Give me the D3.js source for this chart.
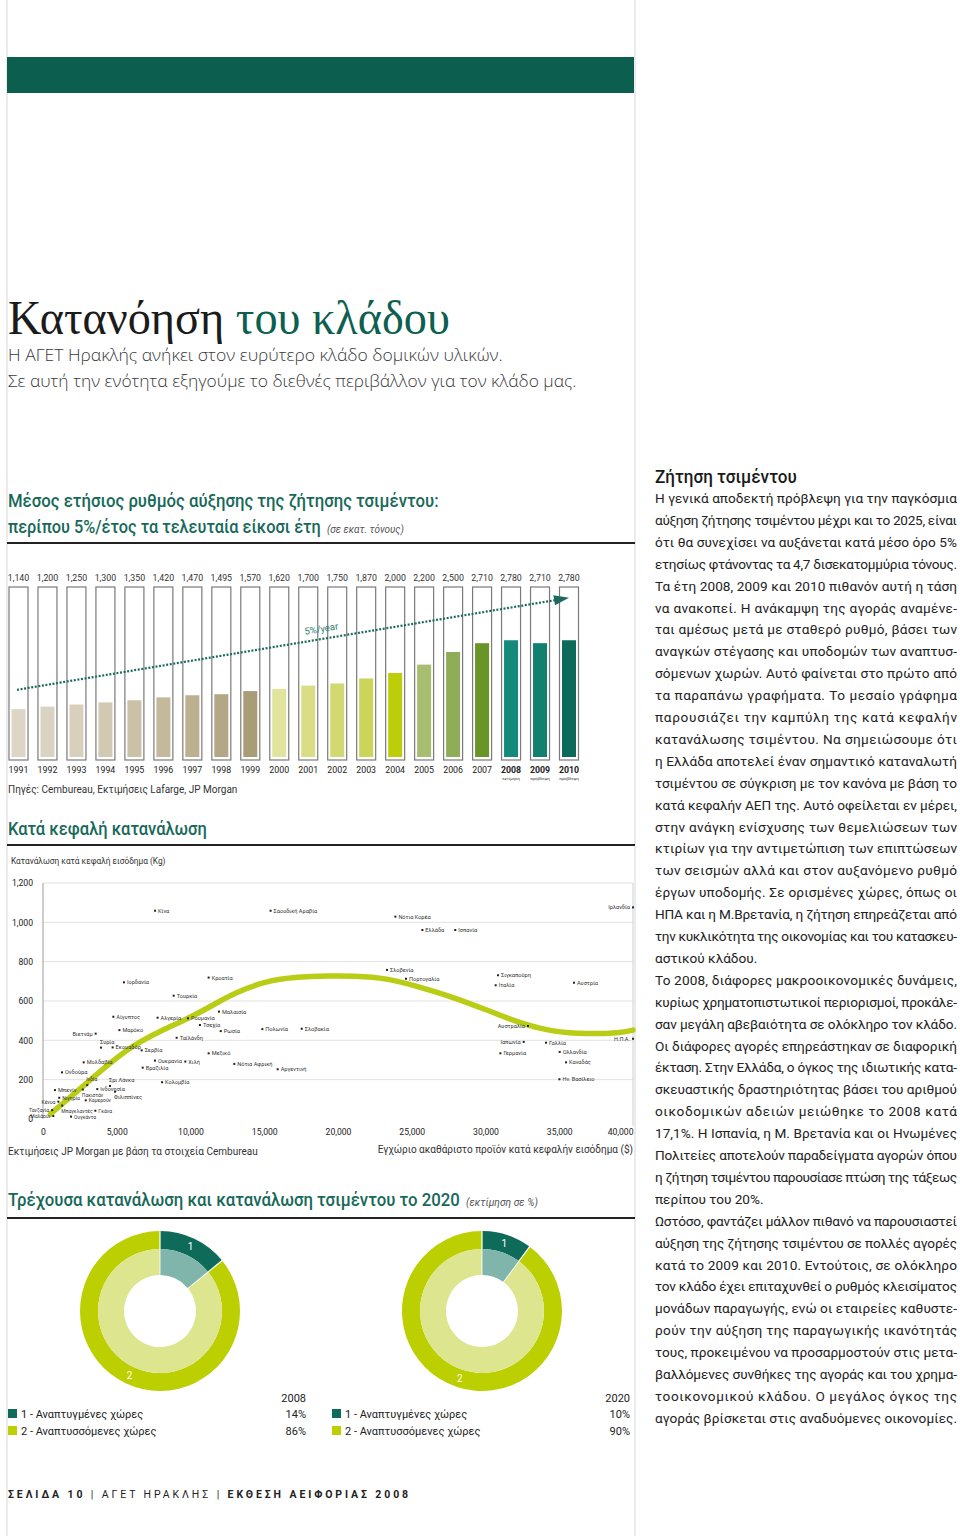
<!DOCTYPE html>
<html><head><meta charset="utf-8">
<script src="https://cdn.jsdelivr.net/npm/d3@7"></script>
<style>body{margin:0;background:#fff}svg{display:block}text{font-family:Roboto,"Noto Sans",sans-serif}</style>
</head><body>
<svg id="page" width="960" height="1536"></svg>
<script>
// ---------- DATA ----------
const years = [1991,1992,1993,1994,1995,1996,1997,1998,1999,2000,2001,2002,2003,2004,2005,2006,2007,2008,2009,2010];
const demand = [1140,1200,1250,1300,1350,1420,1470,1495,1570,1620,1700,1750,1870,2000,2200,2500,2710,2780,2710,2780];
const yearNotes = {2008:"εκτίμηση",2009:"πρόβλεψη",2010:"πρόβλεψη"};
const trendEnds = [1600, 3790]; // dotted 5%/year guide, 1991 -> 2010

const countries = ["Κίνα","Σαουδική Αραβία","Ιορδανία","Κροατία","Τουρκία","Μαλαισία","Αίγυπτος","Αλγερία","Ρουμανία","Τσεχία","Ρωσία","Ταϊλάνδη","Πολωνία","Σλοβακία","Μαρόκο","Βιετνάμ","Συρία","Εκουαδόρ","Σερβία","Μεξικό","Ουκρανία","Χιλή","Νότια Αφρική","Βραζιλία","Αργεντινή","Μολδαβία","Ονδούρα","Κολομβία","Σρι Λάνκα","Ινδονησία","Φιλιππίνες","Ινδία","Πακιστάν","Καμερούν","Μπενίν","Κένυα","Νιγηρία","Μπαγκλαντές","Τανζανία","Μαλάουι","Γκάνα","Ουγκάντα","Νότια Κορέα","Ελλάδα","Ισπανία","Ιρλανδία","Σλοβενία","Πορτογαλία","Σιγκαπούρη","Ιταλία","Αυστρία","Αυστραλία","Ιαπωνία","Γαλλία","Γερμανία","Ολλανδία","Καναδάς","Ην. Βασίλειο","Η.Π.Α."];
const gdpPerCapita = [7600,15430,5490,11230,8860,11930,4770,7770,9830,10640,12050,9060,14870,17540,5180,3570,3930,4720,6690,11230,7590,9650,12970,6760,15910,2760,1290,8070,4540,3680,4880,3000,2700,2900,810,1040,1100,1300,620,700,3550,1900,23890,25720,27950,40000,23320,24610,30850,30690,36000,32880,32590,34100,31010,35030,35460,35010,40000];
const consumption = [1059,1059,695,719,627,546,520,515,512,478,447,413,457,459,452,434,363,364,349,334,297,292,280,261,253,288,237,187,168,152,139,172,150,95,147,88,108,68,45,15,42,12,1029,961,961,1076,758,713,731,680,693,473,392,388,334,341,288,202,408];
const leftLabelled = ["Βιετνάμ","Ιρλανδία","Αυστραλία","Ιαπωνία","Η.Π.Α.","Κένυα","Τανζανία","Μαλάουι"];
const curveGdp = [500,1500,2700,4500,6000,8000,10000,12000,13000,15000,17000,19500,21000,23300,25500,27800,30100,32300,34600,36900,39100,40000];
const curveCons = [25,90,165,282,370,450,515,600,640,700,722,728,727,717,672,620,554,488,442,432,437,452];

const shareLabels = ["1 - Αναπτυγμένες χώρες","2 - Αναπτυσσόμενες χώρες"];
const share2008 = [14,86];
const share2020 = [10,90];

const bodyLines = [
["Η γενικά αποδεκτή πρόβλεψη για την παγκόσμια",1],
["αύξηση ζήτησης τσιμέντου μέχρι και το 2025, είναι",1],
["ότι θα συνεχίσει να αυξάνεται κατά μέσο όρο 5%",1],
["ετησίως φτάνοντας τα 4,7 δισεκατομμύρια τόνους.",1],
["Τα έτη 2008, 2009 και 2010 πιθανόν αυτή η τάση",1],
["να ανακοπεί. Η ανάκαμψη της αγοράς αναμένε-",1],
["ται αμέσως μετά με σταθερό ρυθμό, βάσει των",1],
["αναγκών στέγασης και υποδομών των αναπτυσ-",1],
["σόμενων χωρών. Αυτό φαίνεται στο πρώτο από",1],
["τα παραπάνω γραφήματα. Το μεσαίο γράφημα",1],
["παρουσιάζει την καμπύλη της κατά κεφαλήν",1],
["κατανάλωσης τσιμέντου. Να σημειώσουμε ότι",1],
["η Ελλάδα αποτελεί έναν σημαντικό καταναλωτή",1],
["τσιμέντου σε σύγκριση με τον κανόνα με βάση το",1],
["κατά κεφαλήν ΑΕΠ της.  Αυτό οφείλεται εν μέρει,",1],
["στην ανάγκη ενίσχυσης των θεμελιώσεων των",1],
["κτιρίων για την αντιμετώπιση των επιπτώσεων",1],
["των σεισμών αλλά και στον αυξανόμενο ρυθμό",1],
["έργων υποδομής. Σε ορισμένες χώρες, όπως οι",1],
["ΗΠΑ και η Μ.Βρετανία, η ζήτηση επηρεάζεται από",1],
["την κυκλικότητα της οικονομίας και του κατασκευ-",1],
["αστικού κλάδου.",0],
["Το 2008, διάφορες μακροοικονομικές δυνάμεις,",1],
["κυρίως χρηματοπιστωτικοί περιορισμοί, προκάλε-",1],
["σαν μεγάλη αβεβαιότητα σε ολόκληρο τον κλάδο.",1],
["Οι διάφορες αγορές επηρεάστηκαν σε διαφορική",1],
["έκταση. Στην Ελλάδα, ο όγκος της ιδιωτικής κατα-",1],
["σκευαστικής δραστηριότητας βάσει του αριθμού",1],
["οικοδομικών αδειών μειώθηκε το 2008 κατά",1],
["17,1%. Η Ισπανία, η Μ. Βρετανία και οι Ηνωμένες",1],
["Πολιτείες αποτελούν παραδείγματα αγορών όπου",1],
["η ζήτηση τσιμέντου παρουσίασε πτώση της τάξεως",1],
["περίπου του 20%.",0],
["Ωστόσο, φαντάζει μάλλον πιθανό να παρουσιαστεί",1],
["αύξηση της ζήτησης τσιμέντου σε πολλές αγορές",1],
["κατά το 2009 και 2010. Εντούτοις, σε ολόκληρο",1],
["τον κλάδο έχει επιταχυνθεί ο ρυθμός κλεισίματος",1],
["μονάδων παραγωγής, ενώ οι εταιρείες καθυστε-",1],
["ρούν την αύξηση της παραγωγικής ικανότητάς",1],
["τους, προκειμένου να προσαρμοστούν στις μετα-",1],
["βαλλόμενες συνθήκες της αγοράς και του χρημα-",1],
["τοοικονομικού κλάδου. Ο μεγάλος όγκος της",1],
["αγοράς βρίσκεται στις αναδυόμενες οικονομίες.",1]
];

// ---------- STYLE ----------
const TEAL = "#0d6050", HEAD = "#17695a";
const barPalette = ["#ddd6c6","#dad3c1","#d8d0bc","#d2c9b2","#cbc1a7","#c4b99c","#bcb091","#b3a785","#a99d78","#e1e49c","#d9de86","#d2d970","#cad55a","#bccd0a","#a9bd70","#8fac58","#6b9428","#138a7b","#12806f","#0b6a59"];

const svg = d3.select("#page");

// fit a text horizontally to a target width with a scale transform
function fitX(sel, x, y, width){
  const w = sel.node().getComputedTextLength();
  sel.attr("x",0).attr("y",0).attr("transform",`translate(${x},${y}) scale(${width/w},1)`);
  return sel;
}

// page frame
svg.append("line").attr("x1",7).attr("x2",7).attr("y1",0).attr("y2",1536).attr("stroke","#e4e4e4").attr("stroke-width",1.5);
svg.append("line").attr("x1",635).attr("x2",635).attr("y1",0).attr("y2",1536).attr("stroke","#e4e4e4").attr("stroke-width",1.5);
svg.append("rect").attr("x",7).attr("y",57).attr("width",627).attr("height",36).attr("fill","#0c5e4f");

// titles
const t = svg.append("text").style("font-family","'Liberation Serif',serif").style("font-size","48px");
t.append("tspan").attr("fill","#1b1b1b").text("Κατανόηση ");
t.append("tspan").attr("fill",TEAL).text("του κλάδου");
fitX(t, 8, 334, 442);
fitX(svg.append("text").attr("fill","#3a3a3a").style("font-family","'Open Sans'").style("font-weight",300).style("font-size","17px").text("Η ΑΓΕΤ Ηρακλής ανήκει στον ευρύτερο κλάδο δομικών υλικών."), 8, 361, 495);
fitX(svg.append("text").attr("fill","#3a3a3a").style("font-family","'Open Sans'").style("font-weight",300).style("font-size","17px").text("Σε αυτή την ενότητα εξηγούμε το διεθνές περιβάλλον για τον κλάδο μας."), 8, 387, 569);

function sectionTitle(y, main, len, italic, ilen){
  fitX(svg.append("text").attr("fill",HEAD).style("font-size","19px").style("font-weight",500).text(main), 8, y, len);
  if (italic) fitX(svg.append("text").attr("fill","#555").style("font-size","10.5px").style("font-style","italic").text(italic), 8+len+6, y, ilen);
}
sectionTitle(507,"Μέσος ετήσιος ρυθμός αύξησης της ζήτησης τσιμέντου:",431);
sectionTitle(533,"περίπου 5%/έτος τα τελευταία είκοσι έτη",313,"(σε εκατ. τόνους)",77);
svg.append("rect").attr("x",7).attr("y",542).attr("width",628).attr("height",2).attr("fill","#222");

// ---------- BAR CHART ----------
const xb = d3.scalePoint().domain(years).range([18.5,569]);
const yb = d3.scaleLinear().domain([0,4048]).range([757,587]);
const bars = svg.append("g");
years.forEach((yr,i)=>{
  const cx = xb(yr);
  bars.append("rect").attr("x",cx-9.5).attr("y",587).attr("width",19).attr("height",173)
    .attr("fill","none").attr("stroke","#7a7a7a").attr("stroke-width",1.2);
  bars.append("rect").attr("x",cx-7).attr("y",yb(demand[i])).attr("width",14).attr("height",yb(0)-yb(demand[i]))
    .attr("fill",barPalette[i]);
  bars.append("text").attr("x",cx).attr("y",581).attr("text-anchor","middle").attr("fill","#333").style("font-size","8.8px")
    .text(d3.format(",")(demand[i]));
  bars.append("text").attr("x",cx).attr("y",773).attr("text-anchor","middle").attr("fill","#222").style("font-size","8.8px")
    .style("font-weight", yearNotes[yr] ? 700 : 400).text(yr);
  if (yearNotes[yr]) bars.append("text").attr("x",cx).attr("y",780).attr("text-anchor","middle").attr("fill","#333")
    .style("font-size","4.2px").text(yearNotes[yr]);
});
// trend guide
const x0 = xb(years[0])-1.5, x1 = xb(years[years.length-1]);
const ty0 = yb(trendEnds[0]), ty1 = yb(trendEnds[1]);
const ang = Math.atan2(ty1-ty0, x1-x0);
const tipBack = 14;
bars.append("line").attr("x1",x0).attr("y1",ty0).attr("x2",x1-tipBack*Math.cos(ang)).attr("y2",ty1-tipBack*Math.sin(ang))
  .attr("stroke","#1d6a5d").attr("stroke-width",2.2).attr("stroke-dasharray","2,1.6");
bars.append("path").attr("transform",`translate(${x1},${ty1}) rotate(${ang*180/Math.PI})`)
  .attr("d","M0,0 L-15,-5 L-15,5 Z").attr("fill","#1d6a5d");
const lx = 305, ly = ty0 + (lx-x0)*Math.tan(ang) - 7;
bars.append("text").attr("transform",`translate(${lx},${ly}) rotate(${ang*180/Math.PI})`).attr("fill","#2e7d6e")
  .style("font-size","9.5px").text("5%/year");
svg.append("text").attr("x",8).attr("y",793).attr("fill","#333").style("font-size","10px").text("Πηγές: Cembureau, Εκτιμήσεις Lafarge, JP Morgan");

// ---------- SCATTER ----------
sectionTitle(835,"Κατά κεφαλή κατανάλωση",199);
svg.append("rect").attr("x",7).attr("y",844).attr("width",628).attr("height",2).attr("fill","#222");
svg.append("text").attr("x",11).attr("y",864).attr("fill","#333").style("font-size","8.3px").text("Κατανάλωση κατά κεφαλή εισόδημα (Kg)");

const xs = d3.scaleLinear().domain([0,40000]).range([43,633]);
const ys = d3.scaleLinear().domain([0,1200]).range([1119,883]);
const sc = svg.append("g");
sc.selectAll("line.grid").data([200,400,600,800,1000,1200]).join("line")
  .attr("x1",43).attr("x2",633).attr("y1",d=>ys(d)).attr("y2",d=>ys(d)).attr("stroke","#e2e2e2").attr("stroke-width",1);
sc.append("line").attr("x1",43).attr("x2",43).attr("y1",883).attr("y2",1119).attr("stroke","#9a9a9a");
sc.append("line").attr("x1",633).attr("x2",633).attr("y1",883).attr("y2",1126).attr("stroke","#cfcfcf");
const yAxis = sc.append("g").attr("transform","translate(43,0)")
  .call(d3.axisLeft(ys).tickValues([0,200,400,600,800,1000,1200]).tickFormat(d3.format(",")).tickSize(0).tickPadding(10));
yAxis.select(".domain").remove();
yAxis.selectAll("text").style("font-size","8.6px").attr("fill","#222").style("font-family","Roboto");
const xAxis = sc.append("g").attr("transform","translate(0,1126)")
  .call(d3.axisBottom(xs).tickValues([0,5000,10000,15000,20000,25000,30000,35000,40000]).tickFormat(d3.format(",")).tickSize(0).tickPadding(3));
xAxis.select(".domain").remove();
xAxis.selectAll("text").style("font-size","8.6px").attr("fill","#222").style("font-family","Roboto")
  .attr("text-anchor",d=>d===40000?"end":"middle");

sc.append("path").datum(curveGdp.map((g,i)=>[g,curveCons[i]]))
  .attr("d",d3.line().x(d=>xs(d[0])).y(d=>ys(d[1])).curve(d3.curveBasis))
  .attr("fill","none").attr("stroke","#b9cd16").attr("stroke-width",5.5).attr("stroke-linecap","round");

const below = ["Φιλιππίνες","Πακιστάν","Μπαγκλαντές"], above = ["Συρία","Ινδία","Σρι Λάνκα"];
const smallCluster = ["Κένυα","Νιγηρία","Μπαγκλαντές","Τανζανία","Μαλάουι","Γκάνα","Ουγκάντα","Καμερούν","Πακιστάν","Ινδία"];
countries.forEach((c,i)=>{
  const px = xs(gdpPerCapita[i]), py = ys(consumption[i]);
  sc.append("rect").attr("x",px-1).attr("y",py-1).attr("width",2).attr("height",2).attr("fill","#222");
  const lab = sc.append("text").attr("fill","#333").style("font-size", smallCluster.includes(c) ? "5px" : "5.6px").text(c);
  if (leftLabelled.includes(c)) lab.attr("x",px-3).attr("y",py+2).attr("text-anchor","end");
  else if (below.includes(c)) lab.attr("x",px-1).attr("y",py+7);
  else if (above.includes(c)) lab.attr("x",px-1).attr("y",py-4);
  else lab.attr("x",px+3).attr("y",py+2);
});
svg.append("text").attr("x",633).attr("y",1153).attr("text-anchor","end").attr("fill","#333").style("font-size","10px").text("Εγχώριο ακαθάριστο προϊόν κατά κεφαλήν εισόδημα ($)");
svg.append("text").attr("x",8).attr("y",1155).attr("fill","#333").style("font-size","10px").text("Εκτιμήσεις JP Morgan με βάση τα στοιχεία Cembureau");

// ---------- DONUTS ----------
sectionTitle(1206,"Τρέχουσα κατανάλωση και κατανάλωση τσιμέντου το 2020",452,"(εκτίμηση σε %)",72);
svg.append("rect").attr("x",7).attr("y",1217).attr("width",628).attr("height",2).attr("fill","#222");

const outerCol = ["#0e6b5a","#bccf00"], innerCol = ["#80b5ab","#dde58f"], legendCol = ["#0e6b5a","#bccf00"];
const pie = d3.pie().sort(null).padAngle(0.012);
const arcOuter = d3.arc().innerRadius(62).outerRadius(80);
const arcInner = d3.arc().innerRadius(36).outerRadius(62);
const arcLabel = d3.arc().innerRadius(71).outerRadius(71);
function donut(cx, values, year, legendX, legendRight){
  const g = svg.append("g").attr("transform",`translate(${cx},1311)`);
  const arcs = pie(values);
  g.selectAll("path.o").data(arcs).join("path").attr("d",arcOuter).attr("fill",(d,i)=>outerCol[i]);
  g.selectAll("path.i").data(arcs).join("path").attr("d",arcInner).attr("fill",(d,i)=>innerCol[i]);
  g.selectAll("text").data(arcs).join("text").attr("transform",d=>`translate(${arcLabel.centroid(d)})`)
    .attr("text-anchor","middle").attr("dy","0.35em").attr("fill","#fff").style("font-size","10px").text((d,i)=>i+1);
  svg.append("text").attr("x",legendRight).attr("y",1402).attr("text-anchor","end").attr("fill","#222").style("font-size","11px").text(year);
  shareLabels.forEach((l,i)=>{
    const y = 1418 + i*17;
    svg.append("rect").attr("x",legendX).attr("y",y-9).attr("width",9).attr("height",9).attr("fill",legendCol[i]);
    svg.append("text").attr("x",legendX+13).attr("y",y).attr("fill","#222").style("font-size","11px").text(l);
    svg.append("text").attr("x",legendRight).attr("y",y).attr("text-anchor","end").attr("fill","#222").style("font-size","11px").text(values[i]+"%");
  });
}
donut(160, share2008, "2008", 8, 306);
donut(482, share2020, "2020", 332, 630);

// footer
const f = svg.append("text").attr("x",8).attr("y",1498).attr("fill","#222").style("font-size","10.5px").style("letter-spacing","2.9px");
f.append("tspan").style("font-weight",700).text("ΣΕΛΙΔΑ  10  ");
f.append("tspan").text("|  ΑΓΕΤ ΗΡΑΚΛΗΣ  |  ");
f.append("tspan").style("font-weight",700).text("ΕΚΘΕΣΗ ΑΕΙΦΟΡΙΑΣ 2008");

// ---------- RIGHT COLUMN ----------
fitX(svg.append("text").attr("fill","#1a1a1a").style("font-size","19px").style("font-weight",500).text("Ζήτηση τσιμέντου"), 655, 483, 142);
const body = svg.append("g");
bodyLines.forEach((l,i)=>{
  const tx = body.append("text").attr("x",655).attr("y",503+i*21.9).attr("fill","#222").style("font-size","13.6px").text(l[0]);
  if (l[1]) tx.attr("textLength",302).attr("lengthAdjust","spacing");
});
</script>
</body></html>
